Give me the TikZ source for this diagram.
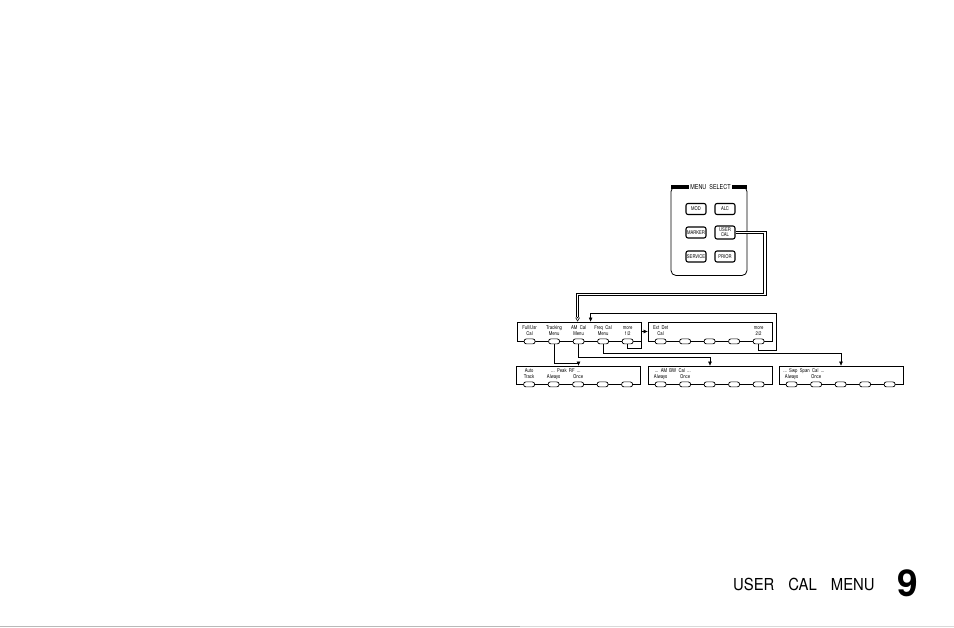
\documentclass[tikz,border=0pt]{standalone}
\usepackage{fontspec}
\setmainfont{TeX Gyre Heros}
\newfontfamily\lblfont[FakeStretch=0.8]{TeX Gyre Heros}
\newfontfamily\footfont[FakeStretch=0.9]{TeX Gyre Heros}
\usetikzlibrary{arrows.meta, positioning}

\tikzset{
  menubox/.style={draw, line width=0.8pt, minimum width=124pt, minimum height=19pt, inner sep=0pt},
  softkey/.style={draw, fill=white, line width=0.7pt, rounded corners=2.3pt, minimum width=11pt, minimum height=5pt, inner sep=0pt},
  keylbl/.style={font=\lblfont\fontsize{5.3}{6}\selectfont, align=center, anchor=south, inner sep=0pt, text depth=0pt},
  hwkey/.style={draw, line width=1.1pt, rounded corners=2pt, minimum width=20pt, minimum height=11pt, inner sep=0pt, align=center, font=\lblfont\fontsize{5.2}{5.2}\selectfont},
  arr/.style={line width=0.6pt, -{Triangle[length=4pt, width=3.5pt]}},
  dblline/.style={double, double distance=1.7pt, line width=0.9pt},
}

\begin{document}
\begin{tikzpicture}[x=1pt, y=-1pt]
\useasboundingbox (0,0) rectangle (954,628);

% menu select panel
\node[draw, line width=0.8pt, rounded corners=5pt, minimum width=76pt, minimum height=89pt] (panel) at (709,231) {};
\fill (671,185.2) rectangle (689,189);
\fill (732,185.2) rectangle (747,189);
\node[fill=white, inner sep=1pt, font=\lblfont\fontsize{6.8}{7}\selectfont] (paneltitle) at (710.5,187) {MENU\ \ SELECT};
\node[hwkey] (mod) at (696,209) {MOD};
\node[hwkey] (alc) at (725,209) {ALC};
\node[hwkey] (marker) at (696,232.5) {MARKER};
\node[hwkey, minimum height=13pt] (usercal) at (725,232.5) {USER\\CAL};
\node[hwkey] (service) at (696,256.5) {SERVICE};
\node[hwkey] (prior) at (725,256.5) {PRIOR};

% softkey menus
\node[menubox] (m1) at (579,331.5) {};
\node[menubox] (m2) at (710,331.5) {};
\node[menubox, minimum height=18pt] (m3) at (578.5,375) {};
\node[menubox, minimum height=18pt] (m4) at (710,375) {};
\node[menubox, minimum height=18pt] (m5) at (841,375) {};
\foreach \m in {m1,m2,m3,m4,m5}
  \foreach \i in {1,...,5}
    \node[softkey] (\m-\i) at ([xshift={13pt+24.5pt*(\i-1)}]\m.south west) {};

\node[keylbl] at ([yshift=2.5pt]m1-1.north) {Full/Usr\\Cal};
\node[keylbl] at ([yshift=2.5pt]m1-2.north) {Tracking\\Menu};
\node[keylbl] at ([yshift=2.5pt]m1-3.north) {AM\ \ Cal\\Menu};
\node[keylbl] at ([yshift=2.5pt]m1-4.north) {Freq\ \ Cal\\Menu};
\node[keylbl] at ([yshift=2.5pt]m1-5.north) {more\\1/2};
\node[keylbl] at ([yshift=2.5pt]m2-1.north) {Ext\ \ Det\\Cal};
\node[keylbl] at ([yshift=2.5pt]m2-5.north) {more\\2/2};

\node[keylbl] at ([yshift=2.5pt]m3-1.north) {Auto\\Track};
\node[keylbl] at ([yshift=2.5pt]m3-2.north) {Always};
\node[keylbl] at ([yshift=2.5pt]m3-3.north) {Once};
\node[keylbl] at ([xshift=12.25pt, yshift=8.5pt]m3-2.north) {...\ \ Peak\ \ RF\ \ ...};
\node[keylbl] at ([yshift=2.5pt]m4-1.north) {Always};
\node[keylbl] at ([yshift=2.5pt]m4-2.north) {Once};
\node[keylbl] at ([xshift=12.25pt, yshift=8.5pt]m4-1.north) {...\ \ AM\ \ BW\ \ Cal\ \ ...};
\node[keylbl] at ([yshift=2.5pt]m5-1.north) {Always};
\node[keylbl] at ([yshift=2.5pt]m5-2.north) {Once};
\node[keylbl] at ([xshift=12.25pt, yshift=8.5pt]m5-1.north) {...\ \ Swp\ \ Span\ \ Cal\ \ ...};

% connectors
\coordinate (dblbend) at (765,294.5);
\draw[dblline] (usercal.east) -| (dblbend) -| ([xshift=61pt, yshift=4.5pt]m1.north west);
\draw[line width=0.5pt, -{Triangle[open, length=4pt, width=4.5pt]}] ([xshift=61pt, yshift=4.6pt]m1.north west) -- ([xshift=61pt]m1.north west);
\draw[arr] (m2-5.south) -- ++(0,6.5) -| ++(18,-37) -| ([xshift=74pt]m1.north west);
\draw[arr] (m1-5.south) -- ++(0,4.5) -| ([xshift=-6pt]m2.west) -- (m2.west);
\draw[arr] (m1-4.south) -- ++(0,9.5) -| (m5.north);
\draw[arr] (m1-3.south) -- ++(0,13.5) -| (m4.north);
\draw[arr] (m1-2.south) -- ++(0,19) -| (m3.north);

% page footer
\node[font=\footfont\fontsize{16.5}{18}\selectfont, anchor=base west, inner sep=0pt] (pagetitle) at (733,590.5) {USER\hspace{14pt}CAL\hspace{14pt}MENU};
\node[font=\bfseries\fontsize{37}{40}\selectfont, anchor=base west, inner sep=0pt] (pagenum) at (897.5,596) {9};
\draw[gray!55, line width=1.2pt] (0,626.8) -- (520,626.8);
\draw[gray!30, line width=1.2pt] (520,626.8) -- (954,626.8);
\end{tikzpicture}
\end{document}
